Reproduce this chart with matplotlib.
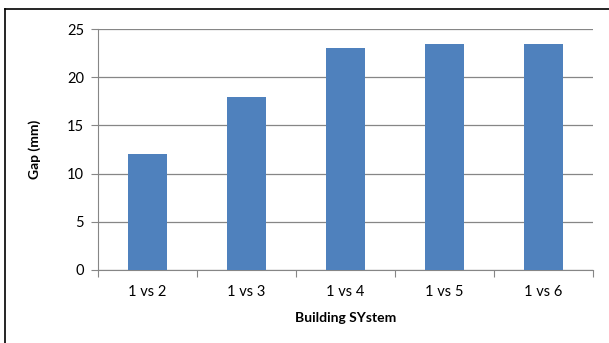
import matplotlib.pyplot as plt
from matplotlib.lines import Line2D

categories = ["1 vs 2", "1 vs 3", "1 vs 4", "1 vs 5", "1 vs 6"]
gap_mm = [12, 18, 23, 23.5, 23.5]

plt.rcParams['font.family'] = ['Lato', 'DejaVu Sans']

fig = plt.figure(figsize=(6.09, 3.43), dpi=100)
ax = fig.add_axes([0.161, 0.213, 0.813, 0.702])

x = range(len(categories))
ax.bar(x, gap_mm, width=0.4, color="#4F81BD", zorder=3)

ax.set_xlim(-0.5, len(categories) - 0.5)
ax.set_ylim(0, 25)
ax.set_yticks([0, 5, 10, 15, 20, 25])
ax.set_xticks([i - 0.5 for i in range(len(categories) + 1)], minor=False)
ax.set_xticklabels([])
ax.set_xticks(list(x), minor=True)
ax.set_xticklabels(categories, minor=True)
ax.tick_params(axis='x', which='minor', length=0, labelsize=10.5, pad=11)
ax.tick_params(axis='x', which='major', length=5, color="#868686")
ax.tick_params(axis='y', length=5, color="#868686", labelsize=10.5, pad=5)

ax.yaxis.grid(True, color="#868686", linewidth=0.9, zorder=0)
for s in ["top", "right"]:
    ax.spines[s].set_visible(False)
for s in ["left", "bottom"]:
    ax.spines[s].set_color("#868686")

ax.set_xlabel("Building SYstem", fontsize=10, fontweight="bold", labelpad=9)
ax.set_ylabel("Gap (mm)", fontsize=10, fontweight="bold", labelpad=19)

# chart border (only top and left edges visible in the crop)
fig.add_artist(Line2D([0.009, 1.0], [0.974, 0.974], transform=fig.transFigure,
                      color="black", linewidth=1.2))
fig.add_artist(Line2D([0.009, 0.009], [0.0, 0.974], transform=fig.transFigure,
                      color="black", linewidth=1.2))

fig.savefig("out.png", dpi=100)
